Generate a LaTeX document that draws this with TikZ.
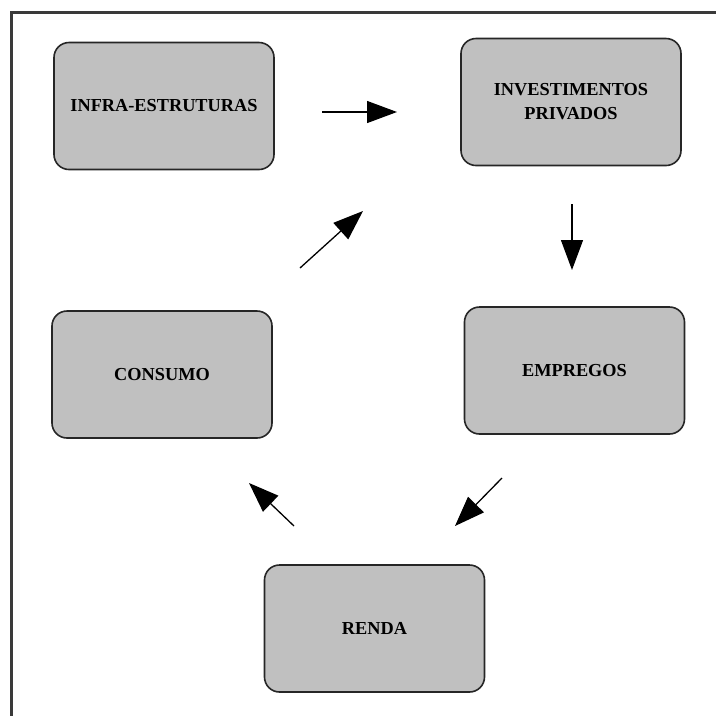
\documentclass[tikz,border=0pt]{standalone}
\usepackage{fontspec}
\setmainfont{Liberation Serif}
\usetikzlibrary{arrows.meta}
\definecolor{boxfill}{HTML}{C0C0C0}
\definecolor{framecol}{HTML}{3A3A3A}
\tikzset{
  stagebox/.style={draw=black!85, line width=1.6pt, fill=boxfill, rounded corners=15pt,
    minimum width=220pt, minimum height=127pt, inner sep=0pt,
    font=\fontsize{18.3}{24}\selectfont\bfseries, align=center},
  flow/.style={line width=1.3pt, -{Triangle[length=30pt,width=22pt]}},
  framestyle/.style={draw=framecol, line width=3pt}
}
\begin{document}
\begin{tikzpicture}[x=1pt,y=-1pt]
\useasboundingbox (0,0) rectangle (716,716);
\draw[framestyle] (11,718) -- (11,12) -- (718,12);

\node[stagebox] (infra) at (164,106) {INFRA-ESTRUTURAS};
\node[stagebox] (invest) at (571,102) {INVESTIMENTOS\\PRIVADOS};
\node[stagebox] (consumo) at (162,374.5) {CONSUMO};
\node[stagebox] (empregos) at (574.5,370.5) {EMPREGOS};
\node[stagebox] (renda) at (374.5,628.5) {RENDA};

\coordinate (a1s) at (322,112);
\coordinate (a1e) at (397,112);
\coordinate (a2s) at (572,204);
\coordinate (a2e) at (572,270);
\coordinate (a3s) at (300,268);
\coordinate (a3e) at (363,211);
\coordinate (a4s) at (294,526);
\coordinate (a4e) at (249,483);
\coordinate (a5s) at (502,478);
\coordinate (a5e) at (455,526);

\draw[flow] (a1s) -- (a1e);
\draw[flow] (a2s) -- (a2e);
\draw[flow] (a3s) -- (a3e);
\draw[flow] (a4s) -- (a4e);
\draw[flow] (a5s) -- (a5e);
\end{tikzpicture}
\end{document}
